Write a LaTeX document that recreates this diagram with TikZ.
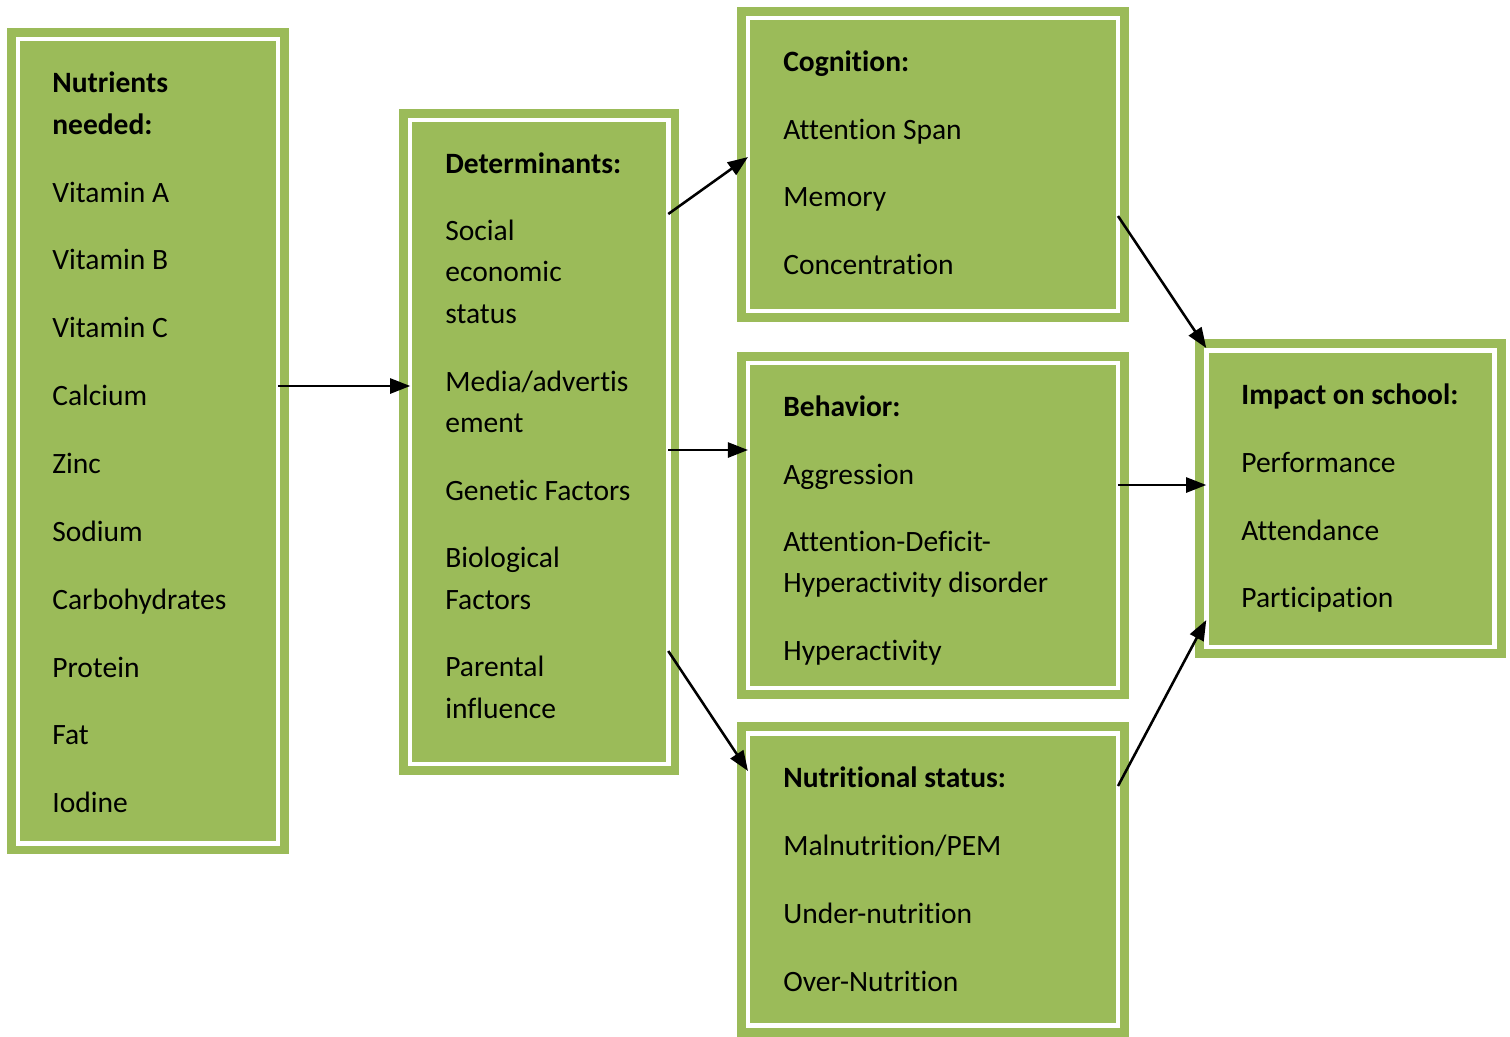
\documentclass[tikz,border=0pt]{standalone}
\usepackage{fontspec}
\setmainfont{Carlito}[Ligatures=NoCommon]
\usetikzlibrary{arrows.meta,fit}
\definecolor{olivegreen}{HTML}{9BBB59}
% keep "t" and "i" as separate glyphs
\newcommand\tiq{t\kern0pt i}
\begin{document}
\begin{tikzpicture}[x=0.02cm,y=-0.02cm,
  gbox/.style={rectangle, inner sep=0pt, outer sep=0pt, fill=olivegreen,
    draw=white, line width=2.55pt,
    preaction={draw=olivegreen, line width=12.76pt}},
  item/.style={anchor=base west, inner sep=0pt, font=\fontsize{16.8}{20}\selectfont},
  head/.style={item, font=\fontsize{16.8}{20}\selectfont\bfseries},
  conn/.style={-{Triangle[length=11.5pt,width=8.6pt]}, line width=1.45pt}]
\useasboundingbox (0,0) rectangle (1510,1036);

% framed boxes (node border = white rule)
\node[gbox, fit={(18.25,39.25) (278.25,843.25)}] (nut) {};
\node[gbox, fit={(410.25,119.75) (668.25,763.75)}] (det) {};
\node[gbox, fit={(748,18) (1118,311)}] (cog) {};
\node[gbox, fit={(748,363) (1118,687.75)}] (beh) {};
\node[gbox, fit={(748,733.5) (1118,1025.5)}] (nst) {};
\node[gbox, fit={(1206.25,350.5) (1494.5,647)}] (imp) {};

% Nutrients
\node[head] (nut-h1) at (52,92) {Nutrients};
\node[head] (nut-h2) at (52,134) {needed:};
\node[item] (nut-1) at (52,202) {Vitamin A};
\node[item] (nut-2) at (52,269) {Vitamin B};
\node[item] (nut-3) at (52,337) {Vitamin C};
\node[item] (nut-4) at (52,405) {Calcium};
\node[item] (nut-5) at (52,473) {Zinc};
\node[item] (nut-6) at (52,541) {Sodium};
\node[item] (nut-7) at (52,609) {Carbohydrates};
\node[item] (nut-8) at (52,677) {Protein};
\node[item] (nut-9) at (52,744) {Fat};
\node[item] (nut-10) at (52,812) {Iodine};

% Determinants
\node[head] (det-h) at (445,173) {Determinants:};
\node[item] (det-1a) at (445,240) {Social};
\node[item] (det-1b) at (445,281) {economic};
\node[item] (det-1c) at (445,323) {status};
\node[item] (det-2a) at (445,391) {Media/advertis};
\node[item] (det-2b) at (445,432) {ement};
\node[item] (det-3) at (445,500) {Genetic Factors};
\node[item] (det-4a) at (445,567) {Biological};
\node[item] (det-4b) at (445,609) {Factors};
\node[item] (det-5a) at (445,676) {Parental};
\node[item] (det-5b) at (445,718) {influence};

% Cognition
\node[head] (cog-h) at (783,71) {Cogni\tiq on:};
\node[item] (cog-1) at (783,139) {Atten\tiq on Span};
\node[item] (cog-2) at (783,206) {Memory};
\node[item] (cog-3) at (783,274) {Concentra\tiq on};

% Behavior
\node[head] (beh-h) at (783,416) {Behavior:};
\node[item] (beh-1) at (783,484) {Aggression};
\node[item] (beh-2a) at (783,551) {Atten\tiq on-Deficit-};
\node[item] (beh-2b) at (783,592) {Hyperac\tiq vity disorder};
\node[item] (beh-3) at (783,660) {Hyperac\tiq vity};

% Nutritional status
\node[head] (nst-h) at (783,787) {Nutri\tiq onal status:};
\node[item] (nst-1) at (783,855) {Malnutri\tiq on/PEM};
\node[item] (nst-2) at (783,923) {Under-nutri\tiq on};
\node[item] (nst-3) at (783,991) {Over-Nutri\tiq on};

% Impact on school
\node[head] (imp-h) at (1241,404) {Impact on school:};
\node[item] (imp-1) at (1241,472) {Performance};
\node[item] (imp-2) at (1241,540) {Attendance};
\node[item] (imp-3) at (1241,607) {Par\tiq cipa\tiq on};

% connectors
\draw[conn] (nut.east |- 0,386) -- (det.west |- 0,386);
\draw[conn] (det.east |- 0,214) -- (cog.west |- 0,157);
\draw[conn] (det.east |- 0,450) -- (beh.west |- 0,450);
\draw[conn] (det.east |- 0,651) -- (nst.west |- 0,771);
\draw[conn] (cog.east |- 0,216) -- (imp.west |- 0,348);
\draw[conn] (beh.east |- 0,485) -- (imp.west |- 0,485);
\draw[conn] (nst.east |- 0,786) -- (imp.west |- 0,620);
\end{tikzpicture}
\end{document}
